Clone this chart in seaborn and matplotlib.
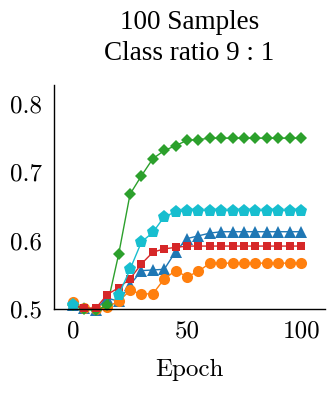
import matplotlib
matplotlib.use("Agg")
import matplotlib.pyplot as plt
import seaborn as sns
import pandas as pd
import numpy as np

epochs = [0, 5, 10, 15, 20, 25, 30, 35, 40, 45, 50, 55, 60, 65, 70, 75, 80, 85, 90, 95, 100]

blue_vals = [0.505, 0.502, 0.499, 0.516, 0.511, 0.535, 0.556, 0.557, 0.558, 0.584, 0.603, 0.607, 0.611,
             0.613, 0.613, 0.613, 0.613, 0.613, 0.613, 0.613, 0.613]
orange_vals = [0.510, 0.502, 0.500, 0.503, 0.511, 0.527, 0.522, 0.522, 0.544, 0.556, 0.547, 0.555, 0.567,
               0.567, 0.567, 0.567, 0.567, 0.567, 0.567, 0.567, 0.567]
green_vals = [0.505, 0.500, 0.498, 0.505, 0.580, 0.668, 0.695, 0.720, 0.732, 0.739, 0.747, 0.748, 0.750,
              0.750, 0.750, 0.750, 0.750, 0.750, 0.750, 0.750, 0.750]
red_vals = [0.505, 0.501, 0.501, 0.521, 0.531, 0.544, 0.566, 0.583, 0.588, 0.590, 0.592, 0.592, 0.592,
            0.592, 0.592, 0.592, 0.592, 0.592, 0.592, 0.592, 0.592]
cyan_vals = [0.505, None, None, None, 0.520, 0.558, 0.598, 0.612, 0.635, 0.642, 0.644, 0.644, 0.644,
             0.644, 0.644, 0.644, 0.644, 0.644, 0.644, 0.644, 0.644]

series_names = ["blue", "orange", "green", "red", "cyan"]
series_vals = [blue_vals, orange_vals, green_vals, red_vals, cyan_vals]
colors = ["#1f77b4", "#ff7f0e", "#2ca02c", "#d62728", "#17becf"]
markers = ["^", "o", "D", "s", "p"]
msizes = [8.5, 8.0, 6.0, 5.5, 9.5]

title_text = "100 Samples\nClass ratio 9 : 1"
xlabel_text = "Epoch"
xticks = [0, 50, 100]
yticks = [0.5, 0.6, 0.7, 0.8]

sns.set_theme(style="white")
plt.rcParams["font.family"] = ["DejaVu Sans"]
plt.rcParams["text.color"] = "black"
plt.rcParams["axes.labelcolor"] = "black"

fig = plt.figure(figsize=(3.32, 3.95), dpi=100)
ax = fig.add_axes([0.163, 0.218, 0.816, 0.567])

for name, vals, c, m, ms in zip(series_names, series_vals, colors, markers, msizes):
    v = pd.Series([np.nan if x is None else x for x in vals], dtype=float)
    seg = v.isna().cumsum()
    df = pd.DataFrame({"Epoch": epochs, "value": v, "seg": seg}).dropna()
    sns.lineplot(data=df, x="Epoch", y="value", units="seg", estimator=None, ax=ax,
                 color=c, marker=m, markersize=ms, markeredgewidth=0, linewidth=1.0,
                 clip_on=False)

ax.set_xlim(-8.3, 110.5)
ax.set_ylim(0.5, 0.828)
ax.set_xticks(xticks)
ax.set_yticks(yticks)
ax.set_xticklabels([str(t) for t in xticks], fontfamily="cmr10", fontsize=18)
ax.set_yticklabels([f"{t:.1f}" for t in yticks], fontfamily="cmr10", fontsize=18)
ax.tick_params(axis="both", direction="in", length=9, width=0.8, color="#b0b0b0",
               labelcolor="black")
ax.tick_params(axis="x", pad=8)
ax.tick_params(axis="y", pad=9)
ax.yaxis.get_major_ticks()[0].tick1line.set_visible(False)

for s in ["top", "right"]:
    ax.spines[s].set_visible(False)
for s in ["left", "bottom"]:
    ax.spines[s].set_color("black")
    ax.spines[s].set_linewidth(1.0)

ax.set_xlabel(xlabel_text, fontfamily="cmr10", fontsize=18, labelpad=12, color="black")
ax.set_ylabel("")
ax.set_title(title_text, fontfamily="Liberation Serif", fontsize=19.5, pad=18,
             linespacing=1.3, color="black")

fig.savefig("out.png", dpi=100)
